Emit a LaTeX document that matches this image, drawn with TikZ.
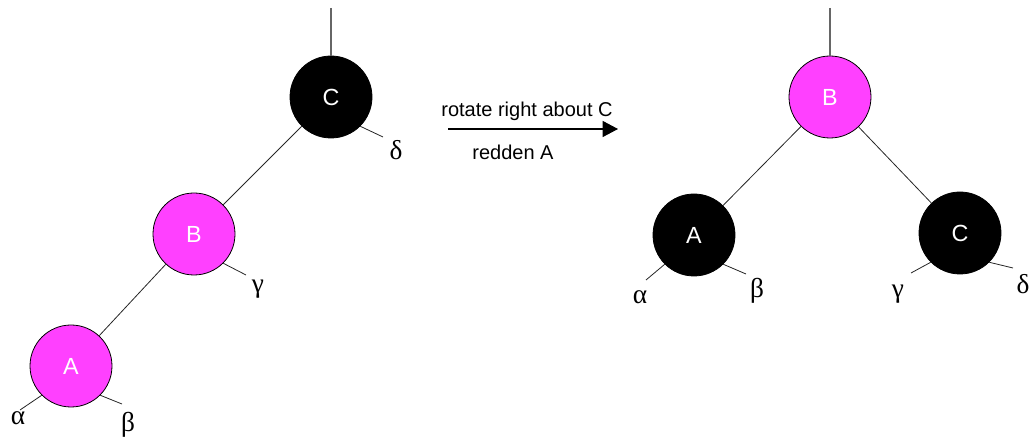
\documentclass[tikz,border=0pt]{standalone}
\usepackage{fontspec}
\setmainfont{Liberation Sans}
\newfontfamily\grk{Liberation Serif}
\usetikzlibrary{arrows.meta}
\definecolor{mag}{RGB}{255,64,255}
\tikzset{
  rb/.style={circle,draw=black,line width=0.6pt,minimum size=82*0.75pt,inner sep=0pt,font=\fontsize{17.5}{20}\selectfont,text=white},
  redn/.style={rb,fill=mag},
  blackn/.style={rb,fill=black},
  edge/.style={line width=0.6pt,draw=black!85},
  toplink/.style={line width=1pt,draw=black!60},
  gl/.style={font=\grk\fontsize{20.5}{24}\selectfont,inner sep=0pt},
}
\begin{document}
\begin{tikzpicture}[x=0.75pt,y=-0.75pt]
\useasboundingbox (0,0) rectangle (1033,438);
% left tree
\node[blackn] (lC) at (331,97) {C};
\node[redn] (lB) at (194,234) {B};
\node[redn] (lA) at (71,366) {A};
\coordinate (lTop) at (331,8);
\draw[toplink] (lTop) -- (lC);
\draw[edge] (lC) -- (lB);
\draw[edge] (lB) -- (lA);
\node[gl] (ld) at (396,150) {δ};
\node[gl] (lg) at (258,289) {γ};
\node[gl] (la) at (18,418) {α};
\node[gl] (lb) at (128,425) {β};
\coordinate (ldE) at (383,137);
\coordinate (lgE) at (246,275);
\coordinate (laE) at (20,410);
\coordinate (lbE) at (122,404);
\draw[edge] (lC.-45) -- (ldE);
\draw[edge] (lB.-45) -- (lgE);
\draw[edge] (lA.-135) -- (laE);
\draw[edge] (lA.-45) -- (lbE);
% arrow
\coordinate (arS) at (448,129);
\coordinate (arE) at (618,129);
\draw[line width=0.8pt,-{Triangle[length=11.5pt,width=12pt]}] (arS) -- (arE);
\node[font=\fontsize{15}{18}\selectfont,inner sep=0pt] (t1) at (527,111) {rotate right about C};
\node[font=\fontsize{15}{18}\selectfont,inner sep=0pt] (t2) at (513,152) {redden A};
% right tree
\node[redn] (rB) at (830,97) {B};
\node[blackn] (rA) at (694,235) {A};
\node[blackn] (rC) at (960,233) {C};
\coordinate (rTop) at (830,8);
\draw[toplink] (rTop) -- (rB);
\draw[edge] (rB) -- (rA);
\draw[edge] (rB) -- (rC);
\node[gl] (ra) at (640,297) {α};
\node[gl] (rb) at (757,291) {β};
\node[gl] (rg) at (898,294) {γ};
\node[gl] (rd) at (1023,284) {δ};
\coordinate (raE) at (646,280);
\coordinate (rbE) at (746,274);
\coordinate (rgE) at (911,273);
\coordinate (rdE) at (1013,268);
\draw[edge] (rA.-135) -- (raE);
\draw[edge] (rA.-45) -- (rbE);
\draw[edge] (rC.-135) -- (rgE);
\draw[edge] (rC.-45) -- (rdE);
\end{tikzpicture}
\end{document}
